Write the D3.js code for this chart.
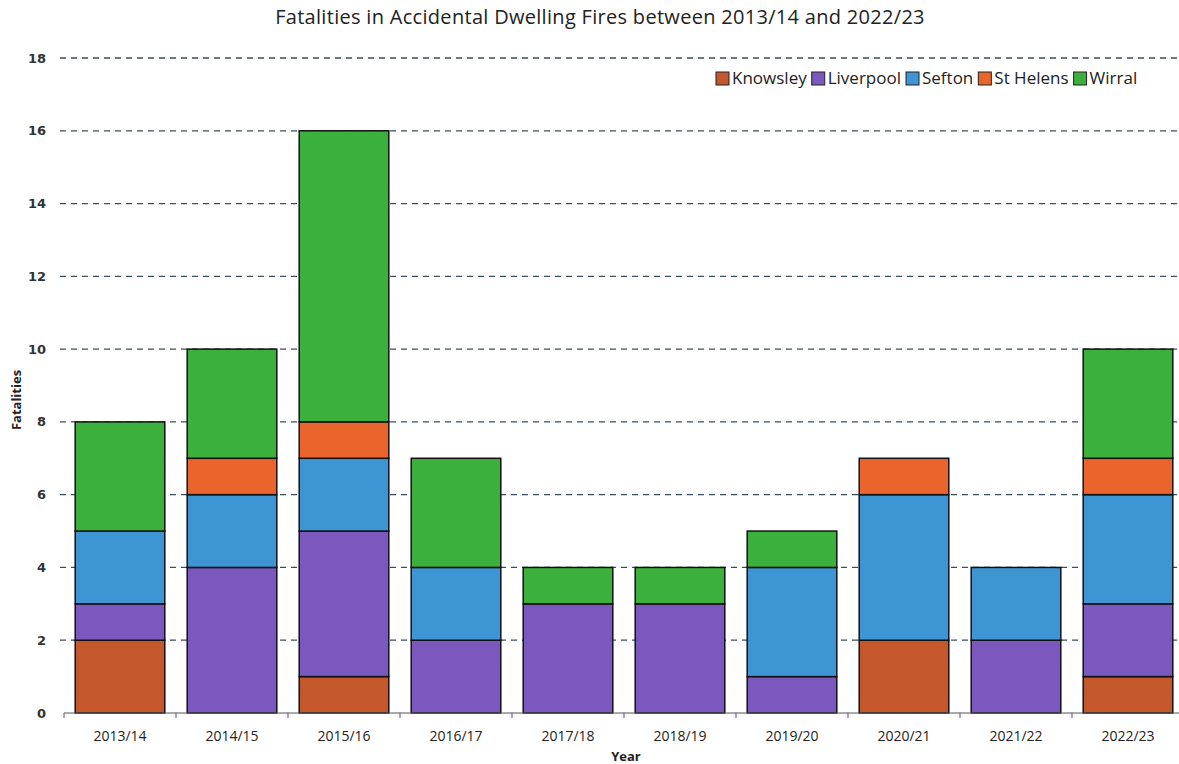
<!DOCTYPE html>
<html>
<head>
<meta charset="utf-8">
<script src="https://cdn.jsdelivr.net/npm/d3@7"></script>
<style>
  body { margin: 0; background: #fff; }
  svg text { font-family: "Open Sans", "Noto Sans", sans-serif; fill: #222; }
</style>
</head>
<body>
<div id="chart"></div>
<script>
// Fatalities per district, per year
var years = ["2013/14", "2014/15", "2015/16", "2016/17", "2017/18", "2018/19", "2019/20", "2020/21", "2021/22", "2022/23"];
var districts = ["Knowsley", "Liverpool", "Sefton", "St Helens", "Wirral"];
var knowsley  = [2, 0, 1, 0, 0, 0, 0, 2, 0, 1];
var liverpool = [1, 4, 4, 2, 3, 3, 1, 0, 2, 2];
var sefton    = [2, 2, 2, 2, 0, 0, 3, 4, 2, 3];
var stHelens  = [0, 1, 1, 0, 0, 0, 0, 1, 0, 1];
var wirral    = [3, 3, 8, 3, 1, 1, 1, 0, 0, 3];
var yTicks = [0, 2, 4, 6, 8, 10, 12, 14, 16, 18];
var colors = ["#c4572b", "#7b58bd", "#3d95d3", "#ea642b", "#3bb03d"];

var width = 1179, height = 764;
var margin = { top: 58, right: 0, bottom: 51, left: 64 };
var iW = 1120, iH = height - margin.top - margin.bottom;

var rows = years.map(function (y, i) {
  return { year: y, "Knowsley": knowsley[i], "Liverpool": liverpool[i], "Sefton": sefton[i], "St Helens": stHelens[i], "Wirral": wirral[i] };
});
var series = d3.stack().keys(districts)(rows);

var svg = d3.select("#chart").append("svg").attr("width", width).attr("height", height);
var g = svg.append("g").attr("transform", "translate(" + margin.left + "," + margin.top + ")");

var x = d3.scaleBand().domain(years).range([0, iW]).paddingInner(0.2).paddingOuter(0.1);
var y = d3.scaleLinear().domain([0, 18]).range([iH, 0]);
var color = d3.scaleOrdinal().domain(districts).range(colors);

// dashed grid
g.selectAll(".grid").data(yTicks.filter(function (t) { return t > 0; }))
  .join("line")
  .attr("x1", -4).attr("x2", width - margin.left)
  .attr("y1", function (d) { return y(d); }).attr("y2", function (d) { return y(d); })
  .attr("stroke", "#3a4f5e").attr("stroke-width", 1.3).attr("stroke-dasharray", "6,5");

// y tick labels
g.selectAll(".ylab").data(yTicks).join("text")
  .attr("x", -18).attr("y", function (d) { return y(d); })
  .attr("dy", "0.35em").attr("text-anchor", "end")
  .style("font-family", "'DejaVu Sans', sans-serif")
  .style("font-size", "13px").style("font-weight", "bold").style("fill", "#333")
  .text(function (d) { return d; });

// stacked bars
g.selectAll(".layer").data(series).join("g")
  .attr("fill", function (d) { return color(d.key); })
  .selectAll("rect").data(function (d) { return d.filter(function (p) { return p[1] > p[0]; }); })
  .join("rect")
  .attr("x", function (d) { return x(d.data.year); })
  .attr("y", function (d) { return y(d[1]); })
  .attr("width", x.bandwidth())
  .attr("height", function (d) { return y(d[0]) - y(d[1]); })
  .attr("stroke", "#111").attr("stroke-width", 1.5);

// x axis
var xAxis = g.append("g").attr("transform", "translate(0," + iH + ")");
xAxis.append("line").attr("x1", 0).attr("x2", iW).attr("stroke", "#555").attr("stroke-width", 1.2);
xAxis.selectAll(".tk").data(d3.range(years.length + 1)).join("line")
  .attr("x1", function (i) { return i * x.step(); }).attr("x2", function (i) { return i * x.step(); })
  .attr("y1", 0).attr("y2", 5).attr("stroke", "#555");
xAxis.selectAll(".xl").data(years).join("text")
  .attr("x", function (d) { return x(d) + x.bandwidth() / 2; })
  .attr("y", 28).attr("text-anchor", "middle")
  .style("font-size", "14px")
  .text(function (d) { return d; });

// axis titles
svg.append("text").attr("x", 626).attr("y", 761).attr("text-anchor", "middle")
  .style("font-size", "13px").style("font-weight", "bold").text("Year");
svg.append("text").attr("transform", "translate(21,400) rotate(-90)").attr("text-anchor", "middle")
  .style("font-size", "13px").style("font-weight", "bold").text("Fatalities");

// title
svg.append("text").attr("x", 600).attr("y", 24).attr("text-anchor", "middle")
  .style("font-size", "20px").style("letter-spacing", "0.3px")
  .text("Fatalities in Accidental Dwelling Fires between 2013/14 and 2022/23");

// legend
var legend = svg.append("g").attr("transform", "translate(716,78)");
var lx = 0;
districts.forEach(function (k) {
  var item = legend.append("g").attr("transform", "translate(" + lx + ",0)");
  item.append("rect").attr("x", 0).attr("y", -6).attr("width", 13).attr("height", 13)
    .attr("fill", color(k)).attr("stroke", "#222").attr("stroke-width", 1);
  var t = item.append("text").attr("x", 16).attr("y", 0).attr("dy", "0.38em")
    .style("font-size", "17px").style("font-weight", "500").text(k);
  lx += 16 + t.node().getComputedTextLength() + 5;
});
</script>
</body>
</html>
